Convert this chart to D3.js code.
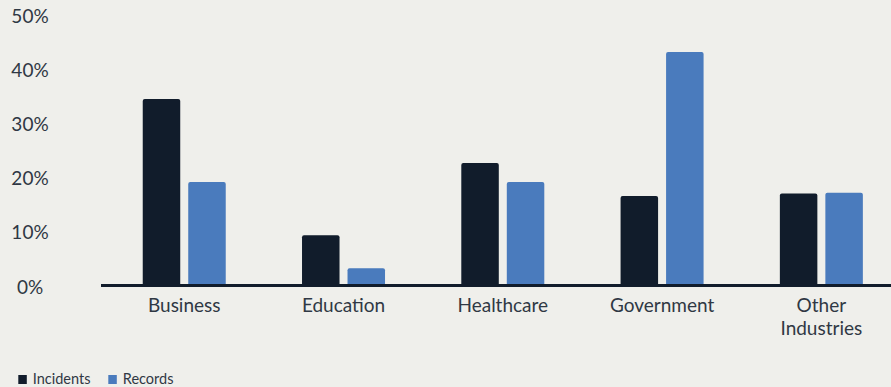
<!DOCTYPE html>
<html>
<head>
<meta charset="utf-8">
<script src="https://cdn.jsdelivr.net/npm/d3@7"></script>
<style>
  html, body { margin: 0; padding: 0; background: #efefeb; }
  svg { display: block; font-family: Lato, "Open Sans", sans-serif; }
</style>
</head>
<body>
<svg id="chart" width="891" height="387"></svg>
<script>
// Share of breaches by sector
const categories = ["Business", "Education", "Healthcare", "Government", "Other Industries"];
const incidents = [34.3, 9.2, 22.5, 16.4, 16.9];
const records = [19.0, 3.1, 19.0, 43.0, 17.0];
const yTicks = [0, 10, 20, 30, 40, 50];
const seriesNames = ["Incidents", "Records"];
const seriesColors = ["#111c2b", "#4a7bbd"];

const svg = d3.select("#chart");
const W = 891, H = 387;
const baseY = 285;

const x = d3.scaleBand().domain(categories).range([104.6, 901]).padding(0);
const y = d3.scaleLinear().domain([0, 50]).range([baseY, 14]);

const barW = 37.5, gap = 8;
const textColor = "#2f3844";

// y-axis labels
const yAxis = d3.axisLeft(y).tickValues(yTicks).tickFormat(d => d + "%").tickSize(0);
const yg = svg.append("g").attr("transform", "translate(30,1.5)").call(yAxis);
yg.select(".domain").remove();
yg.selectAll("text")
  .attr("x", 0)
  .attr("dy", "0.35em")
  .attr("text-anchor", "middle")
  .attr("fill", textColor)
  .style("font-size", "19px")
  .style("font-family", "Lato, sans-serif");

// bars with slightly rounded tops
function barPath(x0, w, yTop, yBot, r) {
  r = Math.min(r, (yBot - yTop));
  return `M${x0},${yBot}V${yTop + r}Q${x0},${yTop} ${x0 + r},${yTop}H${x0 + w - r}Q${x0 + w},${yTop} ${x0 + w},${yTop + r}V${yBot}Z`;
}

const groups = svg.append("g");
[incidents, records].forEach((vals, si) => {
  groups.selectAll(null)
    .data(categories.map((c, i) => ({ c, v: vals[i] })))
    .enter().append("path")
    .attr("fill", seriesColors[si])
    .attr("d", d => {
      const cx = x(d.c) + x.bandwidth() / 2;
      const x0 = si === 0 ? cx - gap / 2 - barW : cx + gap / 2;
      return barPath(x0, barW, y(d.v), baseY, 2);
    });
});

// baseline
svg.append("line")
  .attr("x1", 101).attr("x2", W)
  .attr("y1", baseY + 0.5).attr("y2", baseY + 0.5)
  .attr("stroke", "#111c2b").attr("stroke-width", 3);

// category labels
const xg = svg.append("g");
categories.forEach(c => {
  const cx = x(c) + x.bandwidth() / 2;
  const words = c === "Other Industries" ? ["Other", "Industries"] : [c];
  const t = xg.append("text")
    .attr("x", cx).attr("y", 312)
    .attr("text-anchor", "middle")
    .attr("fill", textColor)
    .style("font-size", "19px");
  words.forEach((w, i) => {
    t.append("tspan").attr("x", cx).attr("dy", i === 0 ? 0 : 22.5).text(w);
  });
});

// legend
const legend = svg.append("g").attr("transform", "translate(18.3,375)");
const legX = [0, 90];
seriesNames.forEach((n, i) => {
  const g = legend.append("g").attr("transform", `translate(${legX[i]},0)`);
  g.append("rect").attr("width", 8.5).attr("height", 9).attr("fill", seriesColors[i]);
  g.append("text").attr("x", 14.5).attr("y", 8.5)
    .attr("fill", textColor).style("font-size", "14.5px").text(n);
});
</script>
</body>
</html>
